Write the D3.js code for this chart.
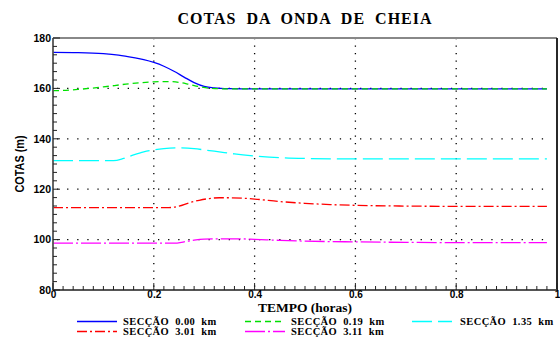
<!DOCTYPE html>
<html><head><meta charset="utf-8">
<script src="https://cdn.jsdelivr.net/npm/d3@7"></script>
<style>body{margin:0;background:#fff}svg{display:block}</style>
</head><body>
<svg id="c" width="560" height="338"></svg>
<script>
// ---- data ----
const title = "COTAS  DA  ONDA  DE  CHEIA";
const xLabel = "TEMPO (horas)";
const yLabel = "COTAS (m)";
const xTicks = [0, 0.2, 0.4, 0.6, 0.8, 1];
const xTickLabels = ["0", "0.2", "0.4", "0.6", "0.8", "1"];
const yTicks = [80, 100, 120, 140, 160, 180];
const yTickLabels = ["80", "100", "120", "140", "160", "180"];
const seriesNames = ["SECÇÃO  0.00  km", "SECÇÃO  0.19  km", "SECÇÃO  1.35  km", "SECÇÃO  3.01  km", "SECÇÃO  3.11  km"];

const t0 = [0, 0.05, 0.1, 0.13, 0.16, 0.18, 0.2, 0.22, 0.24, 0.26, 0.28, 0.3, 0.32, 0.35, 0.4, 0.6, 0.8, 0.98];
const v0 = [174.3, 174.2, 173.8, 173.2, 172.2, 171.4, 170.3, 168.8, 166.8, 164.5, 162.3, 160.8, 160.2, 159.9, 159.8, 159.8, 159.8, 159.8];

const t1 = [0, 0.02, 0.05, 0.1, 0.15, 0.2, 0.23, 0.25, 0.27, 0.29, 0.31, 0.35, 0.4, 0.6, 0.8, 0.98];
const v1 = [159.1, 159.2, 159.6, 160.6, 161.8, 162.6, 162.7, 162.4, 161.6, 160.7, 160.1, 159.8, 159.8, 159.8, 159.8, 159.8];

const t2 = [0, 0.12, 0.14, 0.16, 0.18, 0.2, 0.22, 0.25, 0.28, 0.3, 0.33, 0.36, 0.4, 0.45, 0.5, 0.6, 0.8, 0.98];
const v2 = [131.3, 131.3, 132.2, 133.6, 134.8, 135.6, 136.1, 136.4, 136.1, 135.6, 134.8, 134.0, 133.2, 132.5, 132.2, 132.0, 132.0, 132.0];

const t3 = [0, 0.23, 0.25, 0.27, 0.29, 0.31, 0.33, 0.35, 0.4, 0.45, 0.5, 0.55, 0.6, 0.7, 0.8, 0.98];
const v3 = [112.7, 112.7, 113.3, 114.6, 115.6, 116.3, 116.6, 116.6, 116.1, 115.1, 114.4, 113.9, 113.6, 113.3, 113.2, 113.2];

const t4 = [0, 0.24, 0.26, 0.28, 0.3, 0.33, 0.37, 0.4, 0.45, 0.5, 0.6, 0.7, 0.8, 0.98];
const v4 = [98.6, 98.6, 99.1, 99.8, 100.2, 100.3, 100.3, 100.1, 99.7, 99.4, 99.1, 98.9, 98.8, 98.8];

const seriesT = [t0, t1, t2, t3, t4];
const seriesV = [v0, v1, v2, v3, v4];
const colors = ["#0000ff", "#00e000", "#00ffff", "#ff0000", "#ff00ff"];
const dashes = [null, "6,4", "20,6", "10,3,2,3", "20,3,2,3"];

// ---- layout ----
const svg = d3.select("#c");
const L = 53, R = 557, T = 38, B = 290;
const x = d3.scaleLinear().domain([0, 1]).range([L, R]);
const y = d3.scaleLinear().domain([80, 180]).range([B, T]);

// grid
const g = svg.append("g");
g.selectAll("line.vg").data(xTicks.slice(1, -1)).join("line")
  .attr("x1", d => x(d)).attr("x2", d => x(d)).attr("y1", T).attr("y2", B)
  .attr("stroke", "#000").attr("stroke-width", 1.3).attr("stroke-dasharray", "1.3,6.2");
g.selectAll("line.hg").data(yTicks.slice(1, -1)).join("line")
  .attr("x1", L + 4).attr("x2", R - 8).attr("y1", d => y(d)).attr("y2", d => y(d))
  .attr("stroke", "#000").attr("stroke-width", 1.3).attr("stroke-dasharray", "1.3,8.8");

// series
const line = d3.line().curve(d3.curveMonotoneX);
seriesT.forEach((ts, i) => {
  svg.append("path")
    .attr("d", line(ts.map((t, j) => [x(t), y(seriesV[i][j])])))
    .attr("fill", "none").attr("stroke", colors[i]).attr("stroke-width", 1.3)
    .attr("stroke-dasharray", dashes[i]);
});

// frame
svg.append("line").attr("x1", L).attr("x2", R).attr("y1", T).attr("y2", T).attr("stroke", "#888").attr("stroke-width", 2);
svg.append("line").attr("x1", R).attr("x2", R).attr("y1", T).attr("y2", B).attr("stroke", "#111").attr("stroke-width", 1.8);
svg.append("line").attr("x1", L).attr("x2", L).attr("y1", T).attr("y2", B).attr("stroke", "#555").attr("stroke-width", 1.8);
svg.append("line").attr("x1", L).attr("x2", R).attr("y1", B).attr("y2", B).attr("stroke", "#555").attr("stroke-width", 1.8);

// minor ticks
const yMinor = d3.range(0, 31).map(i => 80 + i * 10 / 3);
svg.selectAll("line.ym").data(yMinor).join("line")
  .attr("x1", L).attr("x2", (d, i) => L + (i % 6 === 0 ? 7 : 4))
  .attr("y1", d => y(d)).attr("y2", d => y(d)).attr("stroke", "#222").attr("stroke-width", 1);
const xMinor = d3.range(0, 51).map(i => i / 50);
svg.selectAll("line.xm").data(xMinor).join("line")
  .attr("x1", d => x(d)).attr("x2", d => x(d))
  .attr("y1", B).attr("y2", (d, i) => B - (i % 10 === 0 ? 7 : 4)).attr("stroke", "#222").attr("stroke-width", 1);

// axes labels via d3 axes (labels only)
const yAxis = d3.axisLeft(y).tickValues(yTicks).tickFormat((d, i) => yTickLabels[i]).tickSize(0).tickPadding(2);
const ya = svg.append("g").attr("transform", `translate(${L},0)`).call(yAxis);
ya.select(".domain").remove();
ya.selectAll("text").attr("font-family", "Liberation Sans, Arial, sans-serif").attr("font-weight", "bold").attr("font-size", 10.5).attr("fill", "#000");
const xAxis = d3.axisBottom(x).tickValues(xTicks).tickFormat((d, i) => xTickLabels[i]).tickSize(0).tickPadding(1);
const xa = svg.append("g").attr("transform", `translate(0,${B})`).call(xAxis);
xa.select(".domain").remove();
xa.selectAll("text").attr("font-family", "Liberation Sans, Arial, sans-serif").attr("font-weight", "bold").attr("font-size", 10).attr("fill", "#000");

// title
svg.append("text").attr("x", 305).attr("y", 24).attr("text-anchor", "middle")
  .attr("font-family", "Liberation Serif, Times New Roman, serif").attr("font-weight", "bold")
  .attr("font-size", 16).attr("letter-spacing", 1).style("white-space", "pre").text(title);
svg.append("text").attr("x", 305).attr("y", 311.5).attr("text-anchor", "middle")
  .attr("font-family", "Liberation Serif, Times New Roman, serif").attr("font-weight", "bold")
  .attr("font-size", 13.5).text(xLabel);
svg.append("text").attr("transform", "translate(24,164) rotate(-90)").attr("text-anchor", "middle")
  .attr("font-family", "Liberation Sans, Arial, sans-serif").attr("font-weight", "bold")
  .attr("font-size", 12).attr("textLength", 57).attr("lengthAdjust", "spacingAndGlyphs").text(yLabel);

// legend
const legX = [77, 245, 412, 77, 245];
const legY = [321.5, 321.5, 321.5, 331.5, 331.5];
const legTextX = [123, 291, 460, 123, 291];
seriesNames.forEach((n, i) => {
  svg.append("line").attr("x1", legX[i]).attr("x2", legX[i] + 40).attr("y1", legY[i]).attr("y2", legY[i])
    .attr("stroke", colors[i]).attr("stroke-width", 1.3).attr("stroke-dasharray", dashes[i]);
  svg.append("text").attr("x", legTextX[i]).attr("y", legY[i] + 3.5)
    .attr("font-family", "Liberation Serif, Times New Roman, serif").attr("font-weight", "bold")
    .attr("font-size", 10.5).attr("letter-spacing", 0.4).style("white-space", "pre").text(n);
});
</script>
</body></html>
